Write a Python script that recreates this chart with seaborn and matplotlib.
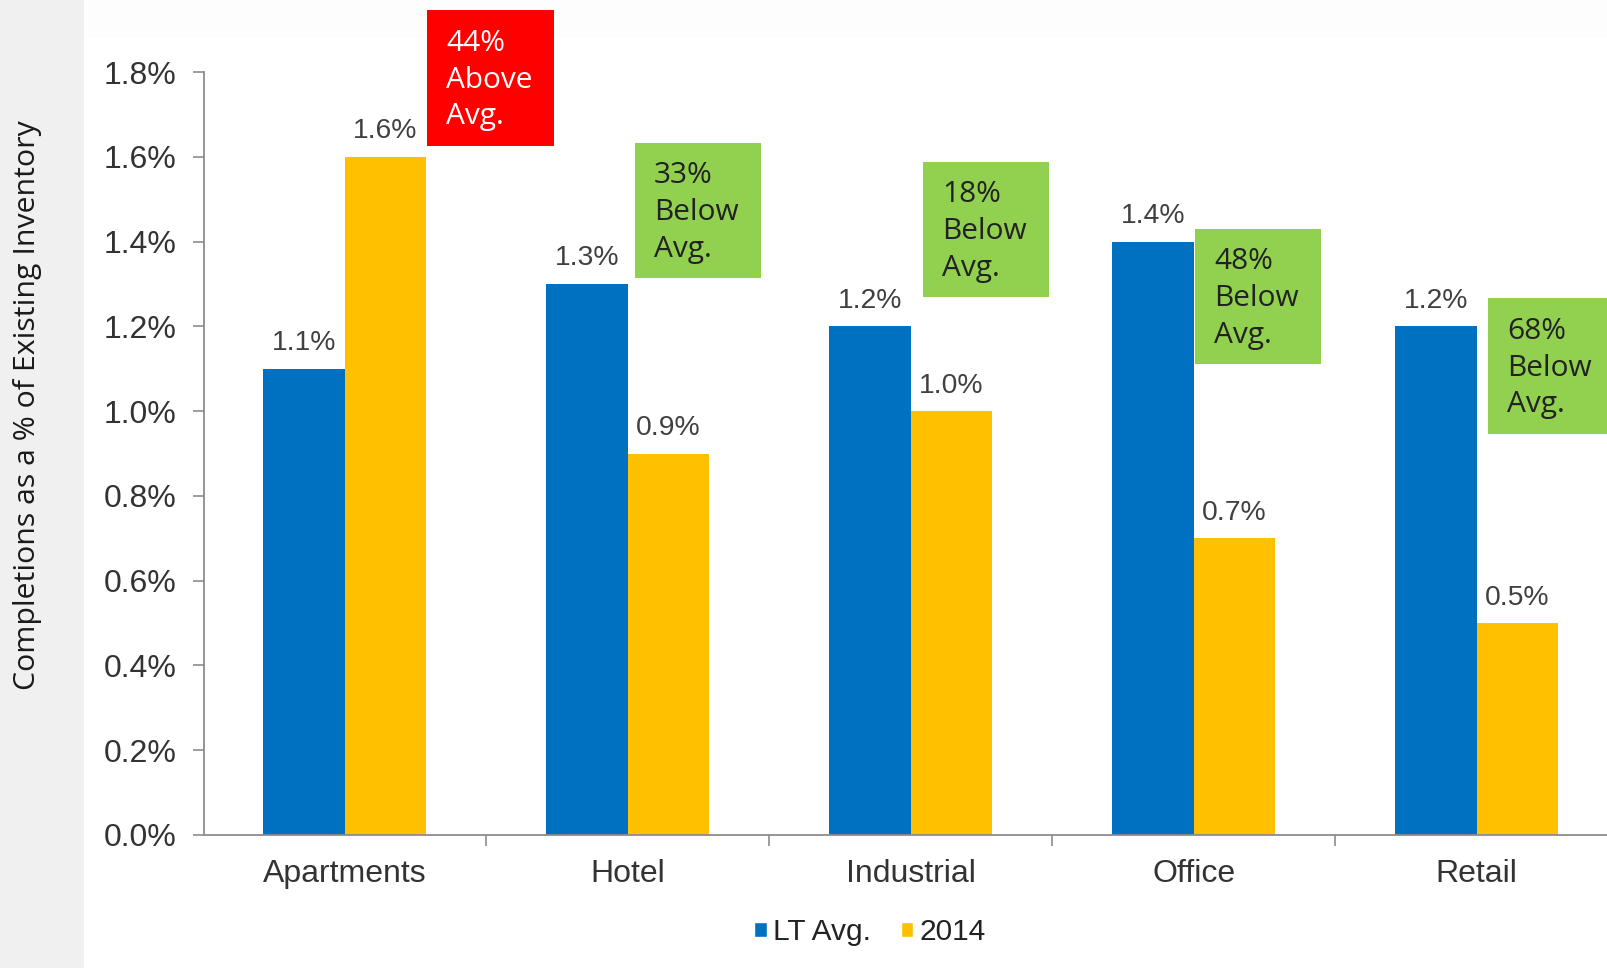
import matplotlib
matplotlib.use("Agg")
import matplotlib.pyplot as plt
from matplotlib import font_manager
from matplotlib.patches import Rectangle
import seaborn as sns
import pandas as pd

# ---- data -------------------------------------------------------------
categories = ["Apartments", "Hotel", "Industrial", "Office", "Retail"]
lt_avg = [1.1, 1.3, 1.2, 1.4, 1.2]
y2014 = [1.6, 0.9, 1.0, 0.7, 0.5]
series_names = ["LT Avg.", "2014"]
y_ticks = [0.0, 0.2, 0.4, 0.6, 0.8, 1.0, 1.2, 1.4, 1.6, 1.8]
callout_texts = ["44%\nAbove\nAvg.", "33%\nBelow\nAvg.", "18%\nBelow\nAvg.",
                 "48%\nBelow\nAvg.", "68%\nBelow\nAvg."]

# ---- styling ----------------------------------------------------------
BLUE = "#0070C0"
GOLD = "#FFC000"
RED = "#FF0000"
GREEN = "#92D050"
W, H = 1608, 968

sns.set_theme(style="white")
plt.rcParams["font.family"] = ["Liberation Sans", "DejaVu Sans"]


def pick_font(cands, default):
    for c in cands:
        try:
            font_manager.findfont(c, fallback_to_default=False)
            return c
        except Exception:
            pass
    return default


narrow_font = pick_font(["Liberation Sans Narrow", "DejaVu Sans Condensed"], "Open Sans")
box_font = pick_font(["Open Sans"], "DejaVu Sans")

df = pd.DataFrame({
    "Category": categories * 2,
    "Series": [series_names[0]] * len(categories) + [series_names[1]] * len(categories),
    "Value": lt_avg + y2014,
})

fig = plt.figure(figsize=(W / 100, H / 100), dpi=100)
fig.patch.set_facecolor("white")

# page background strips
fig.patches.append(Rectangle((0, 0), 84 / W, 1, transform=fig.transFigure,
                             facecolor="#f0f0f0", edgecolor="none", zorder=0))
fig.patches.append(Rectangle((84 / W, 1 - 38 / H), 1, 38 / H, transform=fig.transFigure,
                             facecolor="#fdfdfd", edgecolor="none", zorder=0))

ax = fig.add_axes([204 / W, 133 / H, 1 - 204 / W, 763 / H])
ax.set_facecolor("none")

sns.barplot(data=df, x="Category", y="Value", hue="Series",
            palette=[BLUE, GOLD], width=0.574, saturation=1.0,
            linewidth=0, legend=True, ax=ax)

ax.set_xlim(-0.497, -0.497 + 1404 / 283)
ax.set_ylim(0, 1.8)
ax.set_yticks(y_ticks)
ax.set_yticklabels([f"{t:.1f}%" for t in y_ticks])
ax.set_xlabel("")
ax.set_ylabel("")

for s in ["top", "right"]:
    ax.spines[s].set_visible(False)
for s in ["left", "bottom"]:
    ax.spines[s].set_color("#8c8c8c")
    ax.spines[s].set_linewidth(1.3)

ax.tick_params(axis="y", which="major", direction="out", length=8, width=1.2,
               color="#8c8c8c", labelsize=23, labelcolor="#333333", pad=12, left=True)
ax.tick_params(axis="x", which="major", length=0, labelsize=23,
               labelcolor="#333333", pad=17)
ax.set_xticks([i + 0.5 for i in range(len(categories) - 1)], minor=True)
ax.tick_params(axis="x", which="minor", direction="out", length=8, width=1.2,
               color="#8c8c8c", bottom=True)

# value labels above each bar
for container, vals in zip(ax.containers, [lt_avg, y2014]):
    ax.bar_label(container, labels=[f"{v:.1f}%" for v in vals], padding=9,
                 fontsize=20.3, color="#404040")

# legend at the bottom
ax.get_legend().remove()
handles = [Rectangle((0, 0), 1, 1, facecolor=c) for c in (BLUE, GOLD)]
fig.legend(handles, series_names, loc="center", ncol=2,
           bbox_to_anchor=(870 / W, 1 - 932 / H), frameon=False,
           fontsize=21.5, handlelength=0.42, handleheight=0.42,
           handletextpad=0.2, columnspacing=1.0, labelcolor="#222222")

# y-axis title
fig.text(28 / W, 1 - 405 / H, "Completions as a % of Existing Inventory",
         rotation=90, ha="center", va="center", fontsize=21.8,
         family=[narrow_font, "DejaVu Sans"], color="#1a1a1a")

# call-out boxes (left, top, width, height in pixels)
boxes = [(427, 10, 127, 136), (635, 143, 126, 135), (923, 162, 126, 135),
         (1195, 229, 126, 135), (1488, 298, 126, 136)]
for i, ((bx, by, bw, bh), txt) in enumerate(zip(boxes, callout_texts)):
    color = RED if i == 0 else GREEN
    tcolor = "white" if i == 0 else "#222222"
    fig.patches.append(Rectangle((bx / W, 1 - (by + bh) / H), bw / W, bh / H,
                                 transform=fig.transFigure, facecolor=color,
                                 edgecolor="none", zorder=5))
    fig.text((bx + 19) / W, 1 - (by + bh / 2 + 2) / H, txt, ha="left", va="center",
             fontsize=21.5, color=tcolor, linespacing=1.36,
             family=[box_font, "DejaVu Sans"], zorder=6)

fig.savefig("out.png", dpi=100, facecolor=fig.get_facecolor())
